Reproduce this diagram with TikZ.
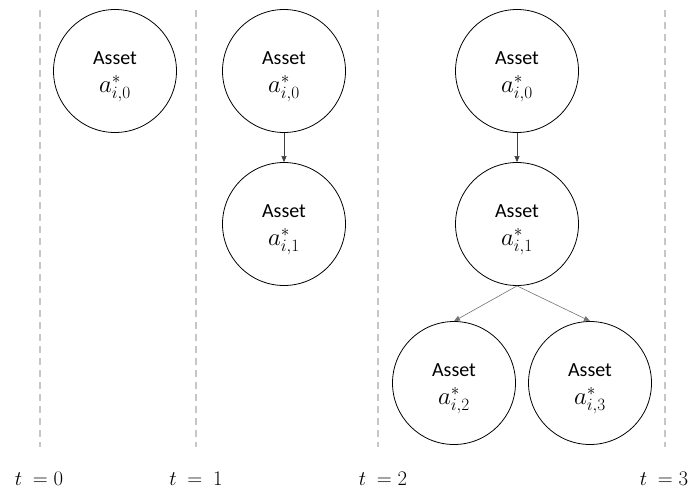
\documentclass[tikz,border=0pt]{standalone}
\usepackage{fontspec}
\setmainfont{Carlito}
\usepackage{tikz}
\usetikzlibrary{arrows.meta,positioning}

\newcommand{\assettext}[1]{\rule{0pt}{24pt}Asset\\[6pt]{\fontsize{25}{27}\selectfont$a^*_{i,#1}$}}
\tikzset{
    asset/.style={draw, thick, circle, minimum size=123pt, inner sep=0pt, align=center, font=\fontsize{20}{22}\selectfont},
    timeline/.style={line width=1.6pt, gray!45, dash pattern=on 7pt off 5pt},
    link/.style={black!75, line width=0.6pt, -{Triangle[length=6pt,width=5pt]}},
    tlabel/.style={font=\fontsize{22}{24}\selectfont}
}

\begin{document}
\begin{tikzpicture}[x=1pt, y=-1pt]
    \useasboundingbox (0,0) rectangle (692,490);
    % time lines
    \foreach \tx in {40, 196, 378, 665} { \draw[timeline] (\tx, 10) -- (\tx, 447); }
    \node[tlabel] (t0) at (39, 479) {$t\ =0$};
    \node[tlabel] (t1) at (196, 479) {$t\ =\ 1$};
    \node[tlabel] (t2) at (383, 479) {$t\ =2$};
    \node[tlabel] (t3) at (664, 479) {$t\ =3$};
    % t = 0
    \node[asset] (a00) at (115, 71) {\assettext{0}};
    % t = 1
    \node[asset] (b00) at (284, 71) {\assettext{0}};
    \node[asset] (b01) at (284, 224) {\assettext{1}};
    \draw[link] (b00) -- (b01);
    % t = 2
    \node[asset] (c00) at (517, 71) {\assettext{0}};
    \node[asset] (c01) at (517, 224) {\assettext{1}};
    \node[asset] (c02) at (454, 383) {\assettext{2}};
    \node[asset] (c03) at (590, 383) {\assettext{3}};
    \draw[link] (c00) -- (c01);
    \draw[link, black!55] (c01.south) -- (c02.north); \draw[link, black!55] (c01.south) -- (c03.north);
\end{tikzpicture}
\end{document}
